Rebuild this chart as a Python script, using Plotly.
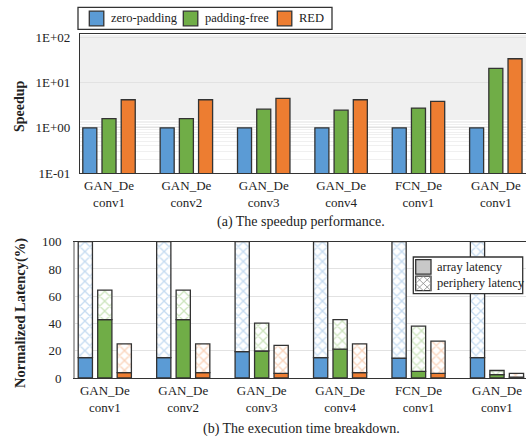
import plotly.graph_objects as go

categories = ["GAN_De<br>conv1", "GAN_De<br>conv2", "GAN_De<br>conv3",
              "GAN_De<br>conv4", "FCN_De<br>conv1", "GAN_De<br>conv1"]
methods = ["zero-padding", "padding-free", "RED"]
breakdown_parts = ["array latency", "periphery latency"]

# (a) speedup
speedup_zero = [1.0, 1.0, 1.0, 1.0, 1.0, 1.0]
speedup_free = [1.6, 1.6, 2.6, 2.47, 2.74, 20.8]
speedup_red = [4.2, 4.2, 4.5, 4.2, 3.85, 34.0]

# (b) latency breakdown (%): array part and total
array_zero = [15.0, 15.0, 19.3, 15.0, 14.6, 15.0]
total_zero = [100, 100, 100, 100, 100, 100]
array_free = [42.9, 42.9, 19.8, 21.2, 4.9, 2.5]
total_free = [64.5, 64.5, 40.3, 42.8, 38.0, 5.5]
array_red = [3.9, 3.9, 3.4, 3.9, 3.4, 0.6]
total_red = [25.1, 25.1, 23.9, 25.1, 27.0, 3.4]

speed_ticks = [0.1, 1, 10, 100]
speed_ticktext = ["1E-01", "1E+00", "1E+01", "1E+02"]

colors = ["#5B9BD5", "#70AD47", "#ED7D31"]
light = ["#8DB9E4", "#9CCB7E", "#F3A877"]
edge = "#333333"
FONT = "Liberation Serif"
H, W = 437, 526


def px(xp):
    return xp / W


def py(yp):
    return 1 - yp / H


x = list(range(len(categories)))
fig = go.Figure()

speeds = [speedup_zero, speedup_free, speedup_red]
for i, m in enumerate(methods):
    fig.add_trace(go.Bar(x=x, y=speeds[i], name=m, offsetgroup=str(i), showlegend=False,
                         marker=dict(color=colors[i], line=dict(color=edge, width=1.3)),
                         xaxis="x", yaxis="y"))

arrays = [array_zero, array_free, array_red]
totals = [total_zero, total_free, total_red]
for i, m in enumerate(methods):
    per = [t - a for t, a in zip(totals[i], arrays[i])]
    fig.add_trace(go.Bar(x=x, y=arrays[i], offsetgroup=str(i), showlegend=False,
                         name=m + " " + breakdown_parts[0],
                         marker=dict(color=colors[i], line=dict(color=edge, width=1.3)),
                         xaxis="x2", yaxis="y2"))
    fig.add_trace(go.Bar(x=x, y=per, base=arrays[i], offsetgroup=str(i), showlegend=False,
                         name=m + " " + breakdown_parts[1],
                         marker=dict(color="white", line=dict(color=edge, width=1.3),
                                     pattern=dict(shape="x", fgcolor=light[i], bgcolor="white",
                                                  size=7, solidity=0.35)),
                         xaxis="x2", yaxis="y2"))

tickfont = dict(family=FONT, size=13, color="#222")
shapes = []
annotations = []

# legend (a)
shapes.append(dict(type="rect", xref="paper", yref="paper", x0=px(78), x1=px(332),
                   y0=py(29.3), y1=py(7.3), line=dict(color="#333", width=1.3),
                   fillcolor="white", layer="above"))
sq_left = [89.3, 183.3, 277.3]
for i, m in enumerate(methods):
    shapes.append(dict(type="rect", xref="paper", yref="paper", x0=px(sq_left[i]),
                       x1=px(sq_left[i] + 14.5), y0=py(25.8), y1=py(11.2),
                       line=dict(color=edge, width=1.3), fillcolor=colors[i], layer="above"))
    annotations.append(dict(text=m, x=px(sq_left[i] + 20), y=py(18.3), xref="paper",
                            yref="paper", xanchor="left", yanchor="middle", showarrow=False,
                            font=dict(family=FONT, size=12.5, color="#222")))

# legend (b)
shapes.append(dict(type="rect", xref="paper", yref="paper", x0=px(413.3), x1=px(522.7),
                   y0=py(293.7), y1=py(257), line=dict(color="#333", width=1.3),
                   fillcolor="white", layer="above"))
sx0, sx1 = 415.7, 431
rows = [(259.7, 274.2), (276.2, 290.7)]
shapes.append(dict(type="rect", xref="paper", yref="paper", x0=px(sx0), x1=px(sx1),
                   y0=py(rows[0][1]), y1=py(rows[0][0]), line=dict(color=edge, width=1.3),
                   fillcolor="#C8C8C8", layer="above"))
shapes.append(dict(type="rect", xref="paper", yref="paper", x0=px(sx0), x1=px(sx1),
                   y0=py(rows[1][1]), y1=py(rows[1][0]), line=dict(color=edge, width=1.3),
                   fillcolor="white", layer="above"))
t, b = rows[1]
mx, my = (sx0 + sx1) / 2, (t + b) / 2
hatch = (f"M{px(sx0)},{py(t)} L{px(sx1)},{py(b)} M{px(sx0)},{py(b)} L{px(sx1)},{py(t)} "
         f"M{px(mx)},{py(t)} L{px(sx1)},{py(my)} L{px(mx)},{py(b)} L{px(sx0)},{py(my)} Z")
shapes.append(dict(type="path", xref="paper", yref="paper", path=hatch,
                   line=dict(color="#8a8a8a", width=0.8), layer="above"))
for k, lab in enumerate(breakdown_parts):
    annotations.append(dict(text=lab, x=px(435), y=py((rows[k][0] + rows[k][1]) / 2),
                            xref="paper", yref="paper", xanchor="left", yanchor="middle",
                            showarrow=False, font=dict(family=FONT, size=12.5, color="#222")))

annotations += [
    dict(text="<b>Speedup</b>", x=px(19), y=py(106), xref="paper", yref="paper",
         xanchor="center", yanchor="middle", textangle=-90, showarrow=False,
         font=dict(family=FONT, size=14, color="#222")),
    dict(text="<b>Normalized Latency(%)</b>", x=px(20), y=py(313), xref="paper",
         yref="paper", xanchor="center", yanchor="middle", textangle=-90, showarrow=False,
         font=dict(family=FONT, size=14.5, color="#222")),
    dict(text="(a) The speedup performance.", x=px(301), y=py(222), xref="paper",
         yref="paper", xanchor="center", yanchor="middle", showarrow=False,
         font=dict(family=FONT, size=14, color="#222")),
    dict(text="(b) The execution time breakdown.", x=px(301), y=py(429), xref="paper",
         yref="paper", xanchor="center", yanchor="middle", showarrow=False,
         font=dict(family=FONT, size=14, color="#222")),
]

fig.update_layout(
    width=W, height=H, margin=dict(l=0, r=0, t=0, b=0),
    paper_bgcolor="white", plot_bgcolor="white", showlegend=False,
    barmode="group", bargap=0.255, bargroupgap=0.27,
    font=dict(family=FONT, size=13, color="#222"),
    xaxis=dict(domain=[px(80), 1], range=[-0.375, 5.39], tickmode="array", tickvals=x,
               ticktext=categories, tickfont=tickfont, showline=True, linecolor="#333",
               linewidth=1.3, mirror=True, ticks="", showgrid=False, zeroline=False,
               automargin=False, anchor="y"),
    yaxis=dict(domain=[py(173), py(34)], type="log", range=[-1, 2.08],
               tickmode="array", tickvals=speed_ticks, ticktext=speed_ticktext,
               tickfont=tickfont, showline=True, linecolor="#333", linewidth=1.3,
               showgrid=True, gridcolor="#e2e2e2", gridwidth=1, ticks="",
               ticklabelstandoff=6,
               minor=dict(showgrid=True, gridcolor="#f0f0f0", gridwidth=1, ticks=""),
               zeroline=False, automargin=False, anchor="x"),
    xaxis2=dict(domain=[px(75), 1], range=[-0.38, 5.37], tickmode="array", tickvals=x,
                ticktext=categories, tickfont=tickfont, showline=True, linecolor="#333",
                linewidth=1.3, mirror=True, ticks="", showgrid=False, zeroline=False,
                automargin=False, anchor="y2"),
    yaxis2=dict(domain=[py(378), py(241.7)], range=[0, 100], dtick=20,
                tickfont=tickfont, showline=True, linecolor="#aaaaaa", linewidth=2,
                showgrid=True, gridcolor="#e2e2e2", gridwidth=1, ticks="",
                ticklabelstandoff=9, zeroline=False, automargin=False, anchor="x2"),
    shapes=shapes,
    annotations=annotations,
)

fig.write_html("out.html", config={"displayModeBar": False},
               post_script="document.body.style.margin='0';")
